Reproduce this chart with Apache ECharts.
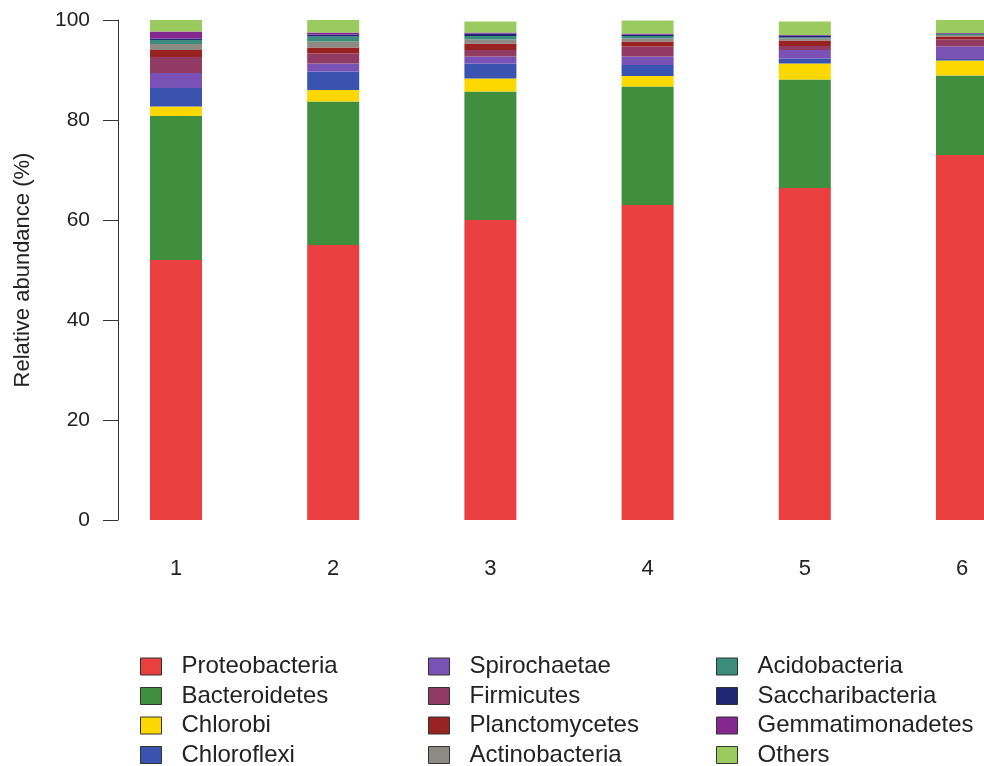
<!DOCTYPE html>
<html><head><meta charset="utf-8">
<script src="https://cdn.jsdelivr.net/npm/echarts@6/dist/echarts.min.js"></script>
<style>html,body{margin:0;padding:0;background:#fff}#c{width:984px;height:766px}</style>
</head><body><div id="c"></div>
<script>
const categories = ['1','2','3','4','5','6'];
const yTicks = [0,20,40,60,80,100];
const Proteobacteria   = [52.0, 55.0, 60.0, 63.0, 66.4, 73.0];
const Bacteroidetes    = [28.8, 28.7, 25.7, 23.7, 21.7, 15.9];
const Chlorobi         = [1.9, 2.3, 2.6, 2.1, 3.2, 3.0];
const Chloroflexi      = [3.7, 3.7, 3.0, 2.2, 1.0, 0.3];
const Spirochaetae     = [3.0, 1.6, 1.4, 1.7, 1.7, 2.5];
const Firmicutes       = [3.2, 2.0, 1.3, 2.0, 0.8, 1.4];
const Planctomycetes   = [1.4, 1.2, 1.3, 1.0, 1.1, 0.6];
const Actinobacteria   = [1.2, 1.2, 0.8, 0.6, 0.4, 0.3];
const Acidobacteria    = [0.8, 1.0, 0.7, 0.5, 0.2, 0.2];
const Saccharibacteria = [0.3, 0.4, 0.5, 0.3, 0.4, 0.1];
const Gemmatimonadetes = [1.4, 0.4, 0.2, 0.2, 0.1, 0.1];
const Others           = [2.3, 2.5, 2.2, 2.6, 2.7, 2.6];

const names = ['Proteobacteria','Bacteroidetes','Chlorobi','Chloroflexi','Spirochaetae','Firmicutes','Planctomycetes','Actinobacteria','Acidobacteria','Saccharibacteria','Gemmatimonadetes','Others'];
const values = [Proteobacteria,Bacteroidetes,Chlorobi,Chloroflexi,Spirochaetae,Firmicutes,Planctomycetes,Actinobacteria,Acidobacteria,Saccharibacteria,Gemmatimonadetes,Others];
const colors = ['#EA3F3F','#3F8F3F','#FDD700','#3A53B0','#7A52B6','#903A64','#982222','#8C8A82','#3C8C7C','#1E2676','#84288F','#9BCB5E'];

const chart = echarts.init(document.getElementById('c'));
const band = 157.2;
const gridLeft = 176 - band/2;
const FONT = 'Liberation Sans, Arial, sans-serif';
const colLeft = [140, 428, 716];
const rowCenter = [666, 695.5, 725, 754.5];
const legends = names.map((n, i) => ({
  orient:'vertical', left:colLeft[Math.floor(i/4)], top:rowCenter[i%4]-11.5, padding:0,
  itemWidth:21, itemHeight:17, icon:'rect', selectedMode:false,
  itemStyle:{borderColor:'#333',borderWidth:1},
  textStyle:{fontSize:24, color:'#222', fontFamily:FONT, padding:[0,0,0,15]},
  data:[n]
}));
chart.setOption({
  animation:false,
  color: colors,
  textStyle:{fontFamily:FONT},
  grid:{left:gridLeft, top:20, width:band*6, height:500, containLabel:false, outerBoundsMode:'none'},
  legend: legends,
  xAxis:{type:'category', data:categories, axisLine:{show:false}, axisTick:{show:false},
    axisLabel:{fontSize:22, color:'#222', margin:38}},
  yAxis:{type:'value', min:0, max:100, interval:20, offset:gridLeft-118,
    name:'Relative abundance (%)', nameLocation:'middle', nameGap:84, nameRotate:90,
    nameTextStyle:{fontSize:22, color:'#222'},
    axisLine:{show:true, lineStyle:{color:'#333', width:1}},
    axisTick:{show:true, length:15, lineStyle:{color:'#333'}},
    axisLabel:{fontSize:21, color:'#222', margin:28, formatter:v=>yTicks.includes(v)?String(v):''},
    splitLine:{show:false}},
  series: names.map((n,i)=>({name:n, type:'bar', stack:'a', barWidth:52, data:values[i],
    itemStyle:{color:colors[i]}}))
});
</script></body></html>
